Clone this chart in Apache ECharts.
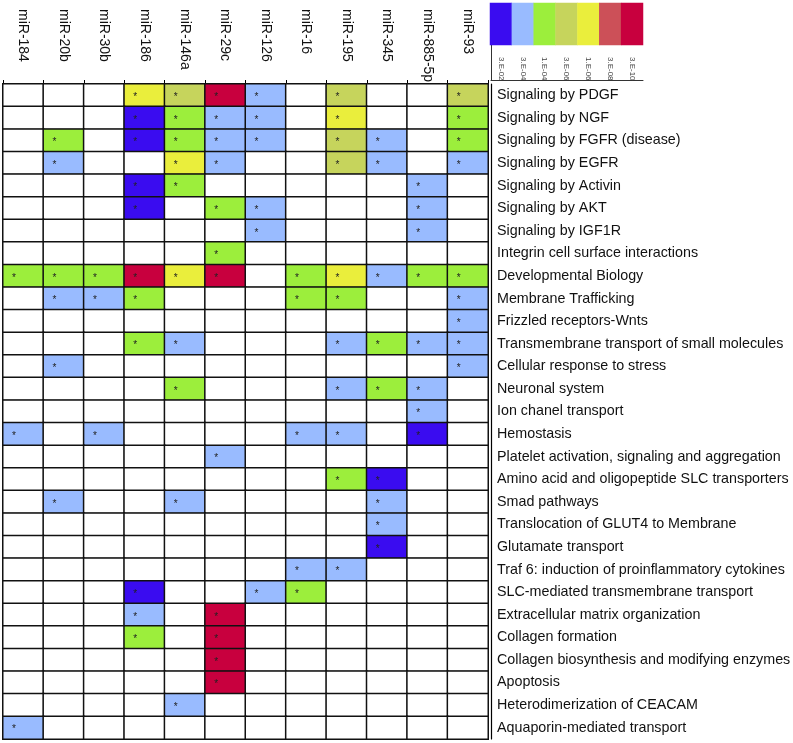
<!DOCTYPE html>
<html><head><meta charset="utf-8">
<script src="https://cdn.jsdelivr.net/npm/echarts@6/dist/echarts.min.js"></script>
<style>html,body{margin:0;padding:0;background:#fff}#c{width:793px;height:743px}</style>
</head><body><div id="c"></div>
<script>
const mirnas = ['miR-184','miR-20b','miR-30b','miR-186','miR-146a','miR-29c','miR-126','miR-16','miR-195','miR-345','miR-885-5p','miR-93'];
const pathways = ['Signaling by PDGF','Signaling by NGF','Signaling by FGFR (disease)','Signaling by EGFR','Signaling by Activin','Signaling by AKT','Signaling by IGF1R','Integrin cell surface interactions','Developmental Biology','Membrane Trafficking','Frizzled receptors-Wnts','Transmembrane transport of small molecules','Cellular response to stress','Neuronal system','Ion chanel transport','Hemostasis','Platelet activation, signaling and aggregation','Amino acid and oligopeptide SLC transporters','Smad pathways','Translocation of GLUT4 to Membrane','Glutamate transport','Traf 6: induction of proinflammatory cytokines','SLC-mediated transmembrane transport','Extracellular matrix organization','Collagen formation','Collagen biosynthesis and modifying enzymes','Apoptosis','Heterodimerization of CEACAM','Aquaporin-mediated transport'];
// significance level per cell: 0 = none, 1..7 = legend classes (3.E-02 ... 3.E-10)
const levels = [
  [0,0,0,5,4,7,2,0,4,0,0,4],
  [0,0,0,1,3,2,2,0,5,0,0,3],
  [0,3,0,1,3,2,2,0,4,2,0,3],
  [0,2,0,0,5,2,0,0,4,2,0,2],
  [0,0,0,1,3,0,0,0,0,0,2,0],
  [0,0,0,1,0,3,2,0,0,0,2,0],
  [0,0,0,0,0,0,2,0,0,0,2,0],
  [0,0,0,0,0,3,0,0,0,0,0,0],
  [3,3,3,7,5,7,0,3,5,2,3,3],
  [0,2,2,3,0,0,0,3,3,0,0,2],
  [0,0,0,0,0,0,0,0,0,0,0,2],
  [0,0,0,3,2,0,0,0,2,3,2,2],
  [0,2,0,0,0,0,0,0,0,0,0,2],
  [0,0,0,0,3,0,0,0,2,3,2,0],
  [0,0,0,0,0,0,0,0,0,0,2,0],
  [2,0,2,0,0,0,0,2,2,0,1,0],
  [0,0,0,0,0,2,0,0,0,0,0,0],
  [0,0,0,0,0,0,0,0,3,1,0,0],
  [0,2,0,0,2,0,0,0,0,2,0,0],
  [0,0,0,0,0,0,0,0,0,2,0,0],
  [0,0,0,0,0,0,0,0,0,1,0,0],
  [0,0,0,0,0,0,0,2,2,0,0,0],
  [0,0,0,1,0,0,2,3,0,0,0,0],
  [0,0,0,2,0,7,0,0,0,0,0,0],
  [0,0,0,3,0,7,0,0,0,0,0,0],
  [0,0,0,0,0,7,0,0,0,0,0,0],
  [0,0,0,0,0,7,0,0,0,0,0,0],
  [0,0,0,0,2,0,0,0,0,0,0,0],
  [2,0,0,0,0,0,0,0,0,0,0,0]
];
const legendLabels = ['3.E-02','3.E-04','1.E-04','3.E-06','1.E-06','3.E-08','3.E-10'];
const legendLevels = [1,2,3,4,5,6,7];
const levelColors = ['#ffffff','#3a0cf0','#99bbff','#9cee3c','#c6d45c','#eaee3c','#cc5058','#c8003e'];

const cells = [];
levels.forEach((row, r) => row.forEach((v, c) => cells.push([c, r, v])));
const legendCells = legendLevels.map((v, i) => [i, 0, v]);

const FONT = 'Liberation Sans';
const chart = echarts.init(document.getElementById('c'), null, {renderer: 'canvas'});
chart.setOption({
  animation: false,
  textStyle: {fontFamily: FONT},
  grid: [
    {left: 3, top: 84, width: 485, height: 655, outerBoundsMode: 'none', containLabel: false},
    {left: 490, top: 3, width: 153, height: 42, outerBoundsMode: 'none', containLabel: false},
    {left: 491, top: 45, width: 152, height: 35, outerBoundsMode: 'none', containLabel: false}
  ],
  xAxis: [
    {type: 'category', data: mirnas, gridIndex: 0, position: 'top',
     axisLine: {show: true, lineStyle: {color: '#000', width: 1.5}},
     axisTick: {show: true, length: 4, lineStyle: {color: '#000'}},
     axisLabel: {rotate: 90, align: 'left', verticalAlign: 'middle', margin: 75, fontSize: 14, color: '#111', fontFamily: FONT, interval: 0},
     splitLine: {show: false}},
    {type: 'category', data: legendLabels, gridIndex: 1, position: 'bottom',
     axisLine: {show: false}, axisTick: {show: false},
     axisLabel: {rotate: -90, align: 'left', verticalAlign: 'middle', margin: 12, fontSize: 8, color: '#444', interval: 0}},
    {type: 'category', data: [''], gridIndex: 2, position: 'bottom',
     axisLine: {show: true, lineStyle: {color: '#333', width: 1}}, axisTick: {show: false}, axisLabel: {show: false}}
  ],
  yAxis: [
    {type: 'category', data: pathways, gridIndex: 0, inverse: true, position: 'right',
     axisLine: {show: true, lineStyle: {color: '#000', width: 1.5}},
     axisTick: {show: false},
     axisLabel: {align: 'left', margin: 9, fontSize: 14.3, color: '#111', fontFamily: FONT, interval: 0}},
    {type: 'category', data: pathways, gridIndex: 0, inverse: true, position: 'right', offset: 3,
     axisLine: {show: true, lineStyle: {color: '#000', width: 1.2}}, axisTick: {show: false}, axisLabel: {show: false}},
    {type: 'category', data: [''], gridIndex: 1, axisLine: {show: false}, axisTick: {show: false}, axisLabel: {show: false}},
    {type: 'category', data: [''], gridIndex: 2, position: 'left',
     axisLine: {show: true, lineStyle: {color: '#333', width: 1}}, axisTick: {show: false}, axisLabel: {show: false}}
  ],
  visualMap: {
    type: 'piecewise', show: false, seriesIndex: [0, 1], dimension: 2,
    pieces: levelColors.map((col, i) => ({value: i, color: col}))
  },
  series: [
    {type: 'heatmap', xAxisIndex: 0, yAxisIndex: 0, data: cells,
     itemStyle: {borderColor: '#111', borderWidth: 1.5},
     label: {show: true, position: [12, '50%'], align: 'center', verticalAlign: 'middle',
       fontSize: 10, color: '#222', offset: [0, 2],
       formatter: p => p.value[2] > 0 ? '*' : ''},
     emphasis: {disabled: true}},
    {type: 'heatmap', xAxisIndex: 1, yAxisIndex: 2, data: legendCells,
     itemStyle: {borderWidth: 0}, label: {show: false}, emphasis: {disabled: true}}
  ]
});
</script></body></html>
